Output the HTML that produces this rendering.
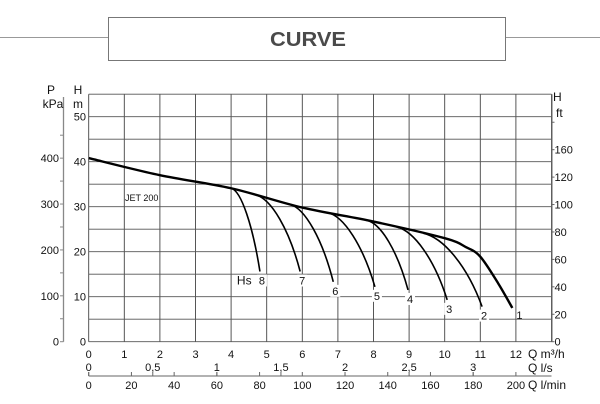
<!DOCTYPE html>
<html><head><meta charset="utf-8"><style>
html,body{margin:0;padding:0;background:#fff;}
svg{display:block;font-family:"Liberation Sans",sans-serif;}
</style></head><body>
<svg id="chart" width="600" height="404" viewBox="0 0 600 404">
<line x1="0" y1="37.5" x2="108" y2="37.5" stroke="#999" stroke-width="1"/>
<line x1="506" y1="37.5" x2="600" y2="37.5" stroke="#999" stroke-width="1"/>
<rect x="108.5" y="17.5" width="397" height="43" fill="#fff" stroke="#777" stroke-width="1"/>
<text x="270" y="46" textLength="76" lengthAdjust="spacingAndGlyphs" font-size="20" font-weight="bold" fill="#4a4a4a">CURVE</text>
<g id="grid"></g>
<g id="axes"></g>
<g id="series"></g>
</svg>
<script>
// ---- data ----
const qTicks = [0,1,2,3,4,5,6,7,8,9,10,11,12];
const lsTicks = [0,0.5,1,1.5,2,2.5,3];
const lsLabels = ["0","0,5","1","1,5","2","2,5","3"];
const lminTicks = [0,20,40,60,80,100,120,140,160,180,200];
const hTicks = [0,10,20,30,40,50];
const kpaTicks = [0,100,200,300,400];
const ftTickVals = [0,20,40,60,80,100,120,140,160];
const ftLabelVals = ["0","20","40","60","80","100","120","160",""];
const mainQ = [0,2,4,6,8,10,10.6,11,11.5,11.9];
const mainH = [40.8,37,34.1,29.8,26.7,23,21,18.9,13,7.5];
const branchNames = ["8","7","6","5","4","3","2"];
const branchStartQ = [4.0,4.7,5.65,6.7,7.8,8.65,9.4];
const branchEndQ = [4.81,5.94,6.87,8.04,8.97,10.07,11.05];
const branchEndH = [15.6,15.6,13.3,12.2,11.5,9.3,7.8];
// ---- scales ----
const X0=88.7, PXQ=35.6, Y0=341.7, PXM=4.5;
const x = q => X0 + q*PXQ;
const y = h => Y0 - h*PXM;
const NS="http://www.w3.org/2000/svg";
function mk(tag, parent, attrs){const e=document.createElementNS(NS,tag);for(const k in attrs)e.setAttribute(k,attrs[k]);parent.appendChild(e);return e;}
const grid=document.getElementById('grid'), axes=document.getElementById('axes'), series=document.getElementById('series');
for(let q=0;q<=13;q++){
  const l=mk('line',grid,{x1:x(q),x2:x(q),y1:y(55),y2:y(0),stroke:'#444','stroke-width':0.9});
  
  
}
for(let h=0;h<=55;h+=5){
  const l=mk('line',grid,{x1:x(0),x2:x(13),y1:y(h),y2:y(h),stroke:'#555','stroke-width':0.9});
  
  
}
function txt(parent,s,xx,yy,size,anchor,name){const t=mk('text',parent,{x:xx,y:yy,'font-size':size,'text-anchor':anchor||'start',fill:'#111'});t.textContent=s;return t;}
hTicks.forEach(h=>{txt(axes,String(h),86,y(h)+4,11,'end','h-m-tick-label');});
txt(axes,'H',78,94,12,'middle','h-m-axis-title');
txt(axes,'m',78,108,12,'middle','h-m-unit');
const pl=mk('line',axes,{x1:63.5,x2:63.5,y1:97,y2:Y0,stroke:'#888','stroke-width':1.3});


for(let p=0;p<=450;p+=50){
  const t=mk('line',axes,{x1:60,x2:63.5,y1:y(p/9.80665),y2:y(p/9.80665),stroke:'#888','stroke-width':1});
  
  
}
kpaTicks.forEach(p=>{txt(axes,String(p),59,y(p/9.80665)+4,11,'end','kpa-tick-label');});
txt(axes,'P',51,94,12,'middle','p-axis-title');
txt(axes,'kPa',53,108,12,'middle','kpa-unit');
const rl=mk('line',axes,{x1:x(13)+0.5,x2:x(13)+0.5,y1:y(55),y2:Y0,stroke:'#666','stroke-width':1});


ftTickVals.forEach((f,i)=>{
  const yy=y(f*0.3048);
  const t=mk('line',axes,{x1:x(13),x2:x(13)+3,y1:yy,y2:yy,stroke:'#666','stroke-width':1});
  
  
  if(ftLabelVals[i]!=="") txt(axes,ftLabelVals[i],x(13)+3,yy+4,11,'start','ft-tick-label');
});
txt(axes,'H',553,101,12,'start','h-ft-axis-title');
txt(axes,'ft',556,117,12,'start','ft-unit');
qTicks.forEach(q=>{txt(axes,String(q),x(q),358,11,'middle','q-m3h-tick-label');});
txt(axes,'Q m³/h',528,358,12,'start','q-m3h-title');
lsTicks.forEach((v,i)=>{txt(axes,lsLabels[i],x(v*3.6),371,11,'middle','q-ls-tick-label');});
txt(axes,'Q l/s',528,372,12,'start','q-ls-title');
const bl=mk('line',axes,{x1:X0,x2:x(13),y1:376,y2:376,stroke:'#666','stroke-width':1});


lminTicks.forEach(v=>{
  const t=mk('line',axes,{x1:x(v*0.06),x2:x(v*0.06),y1:372,y2:376,stroke:'#666','stroke-width':1});
  
  
  txt(axes,String(v),x(v*0.06),389,11,'middle','q-lmin-tick-label');
});
lsTicks.forEach(v=>{
  const t=mk('line',axes,{x1:x(v*3.6),x2:x(v*3.6),y1:372,y2:376,stroke:'#666','stroke-width':1});
  
  
});
txt(axes,'Q l/min',528,389,12,'start','q-lmin-title');
txt(axes,'JET 200',125,201,9,'start','model-label');
function hAt(q){for(let i=0;i<mainQ.length-1;i++){if(q<=mainQ[i+1]){const t=(q-mainQ[i])/(mainQ[i+1]-mainQ[i]);return mainH[i]+t*(mainH[i+1]-mainH[i]);}}return mainH[mainH.length-1];}
function slopeAt(q){const d=0.3;return (hAt(q+d)-hAt(q-d))/(2*d);}
let d='M'+x(mainQ[0])+','+y(mainH[0]);
for(let i=0;i<mainQ.length-1;i++){
  const p0=[x(mainQ[Math.max(i-1,0)]),y(mainH[Math.max(i-1,0)])],p1=[x(mainQ[i]),y(mainH[i])],p2=[x(mainQ[i+1]),y(mainH[i+1])],p3=[x(mainQ[Math.min(i+2,mainQ.length-1)]),y(mainH[Math.min(i+2,mainQ.length-1)])];
  const c1=[p1[0]+(p2[0]-p0[0])/6,p1[1]+(p2[1]-p0[1])/6],c2=[p2[0]-(p3[0]-p1[0])/6,p2[1]-(p3[1]-p1[1])/6];
  d+=' C'+c1+' '+c2+' '+p2;
}
const mc=mk('path',series,{d:d,fill:'none',stroke:'#000','stroke-width':2.4,'stroke-linejoin':'round'});


txt(series,'1',x(11.9)+4,y(7.5)+11,11,'start','branch-label-1');
branchNames.forEach((n,i)=>{
  const qs=branchStartQ[i],hs=hAt(qs),qe=branchEndQ[i],he=branchEndH[i];
  const dq=qe-qs;
  const sx=x(qs),sy=y(hs),ex=x(qe),ey=y(he);
  const c1x=x(qs+dq*0.35),c1y=y(hs+slopeAt(qs)*dq*0.35);
  const c2x=x(qe-dq*0.25),c2y=y(he+(hs-he)*0.55);
  const p=mk('path',series,{d:`M${sx},${sy} C${c1x},${c1y} ${c2x},${c2y} ${ex},${ey}`,fill:'none',stroke:'#000','stroke-width':1.6});
  
  
  const bg=mk('rect',series,{x:ex-3,y:ey+3,width:10,height:12,fill:'#fff'});
  
  
  txt(series,n,ex+2,ey+13,11,'middle','branch-label-'+n);
});
txt(series,'Hs',x(branchEndQ[0])-23,y(branchEndH[0])+13,12,'start','hs-label');
</script>
</body></html>
